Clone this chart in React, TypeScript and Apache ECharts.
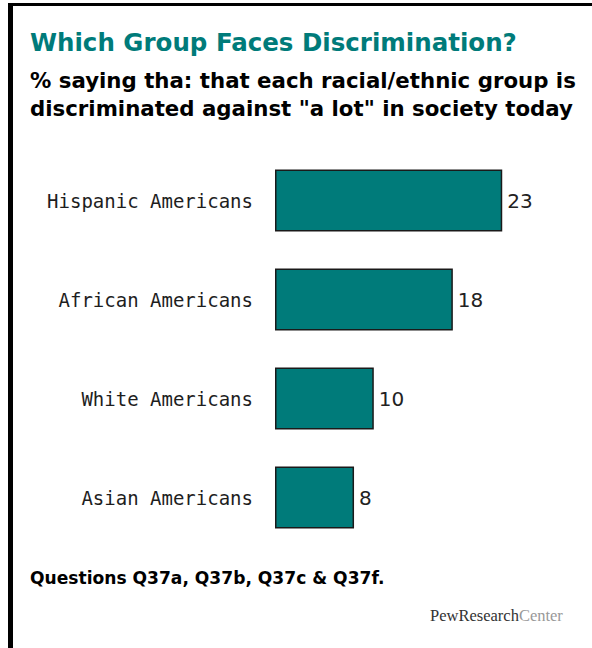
import React, { useEffect, useRef } from "react";
import * as echarts from "echarts";

const categories = ["Hispanic Americans", "African Americans", "White Americans", "Asian Americans"];
const values = [23, 18, 10, 8];
const titleText = "Which Group Faces Discrimination?";
const subtitleLines = [
  "% saying tha: that each racial/ethnic group is",
  "discriminated against \"a lot\" in society today",
];
const footnote = "Questions Q37a, Q37b, Q37c & Q37f.";

export default function App() {
  const ref = useRef<HTMLDivElement>(null);
  useEffect(() => {
    if (!ref.current) return;
    const chart = echarts.init(ref.current, null, { renderer: "svg" });
    chart.setOption({
      animation: false,
      backgroundColor: "#ffffff",
      grid: { left: 275, top: 151, width: 247, height: 396, containLabel: false },
      xAxis: {
        type: "value",
        min: 0,
        max: 25,
        show: false,
      },
      yAxis: {
        type: "category",
        data: categories,
        inverse: true,
        axisLine: { show: false },
        axisTick: { show: false },
        axisLabel: {
          margin: 22,
          color: "#1e1e1e",
          fontFamily: "DejaVu Sans Mono",
          fontSize: 19,
        },
      },
      series: [
        {
          type: "bar",
          data: values,
          barWidth: 62,
          itemStyle: { color: "#007b7a", borderColor: "#1a1a1a", borderWidth: 1.5 },
          label: {
            show: true,
            position: "right",
            distance: 5,
            color: "#222",
            fontFamily: "DejaVu Sans",
            fontSize: 20,
          },
        },
      ],
      graphic: [
        { type: "rect", shape: { x: 8, y: 3, width: 584, height: 3 }, style: { fill: "#000" } },
        { type: "rect", shape: { x: 8, y: 3, width: 5, height: 645 }, style: { fill: "#000" } },
        {
          type: "text",
          x: 30,
          y: 42,
          style: {
            text: titleText,
            fill: "#007b7a",
            font: "bold 24.5px 'DejaVu Sans', sans-serif",
            textVerticalAlign: "middle",
          },
        },
        {
          type: "text",
          x: 30,
          y: 80,
          style: {
            text: subtitleLines[0],
            fill: "#000",
            font: "bold 21.3px 'DejaVu Sans', sans-serif",
            textVerticalAlign: "middle",
          },
        },
        {
          type: "text",
          x: 30,
          y: 108,
          style: {
            text: subtitleLines[1],
            fill: "#000",
            font: "bold 21.3px 'DejaVu Sans', sans-serif",
            textVerticalAlign: "middle",
          },
        },
        {
          type: "text",
          x: 30,
          y: 578,
          style: {
            text: footnote,
            fill: "#000",
            font: "bold 17.1px 'DejaVu Sans', sans-serif",
            textVerticalAlign: "middle",
          },
        },
        {
          type: "text",
          x: 430,
          y: 615,
          style: {
            text: "{a|PewResearch}{b|Center}",
            textVerticalAlign: "middle",
            rich: {
              a: { fill: "#333", fontSize: 16.5, fontFamily: "Liberation Serif" },
              b: { fill: "#999", fontSize: 16.5, fontFamily: "Liberation Serif" },
            },
          },
        },
      ],
    });
    return () => chart.dispose();
  }, []);
  return (
    <div
      ref={ref}
      style={{ position: "absolute", left: 0, top: 0, width: 592, height: 648 }}
    />
  );
}
